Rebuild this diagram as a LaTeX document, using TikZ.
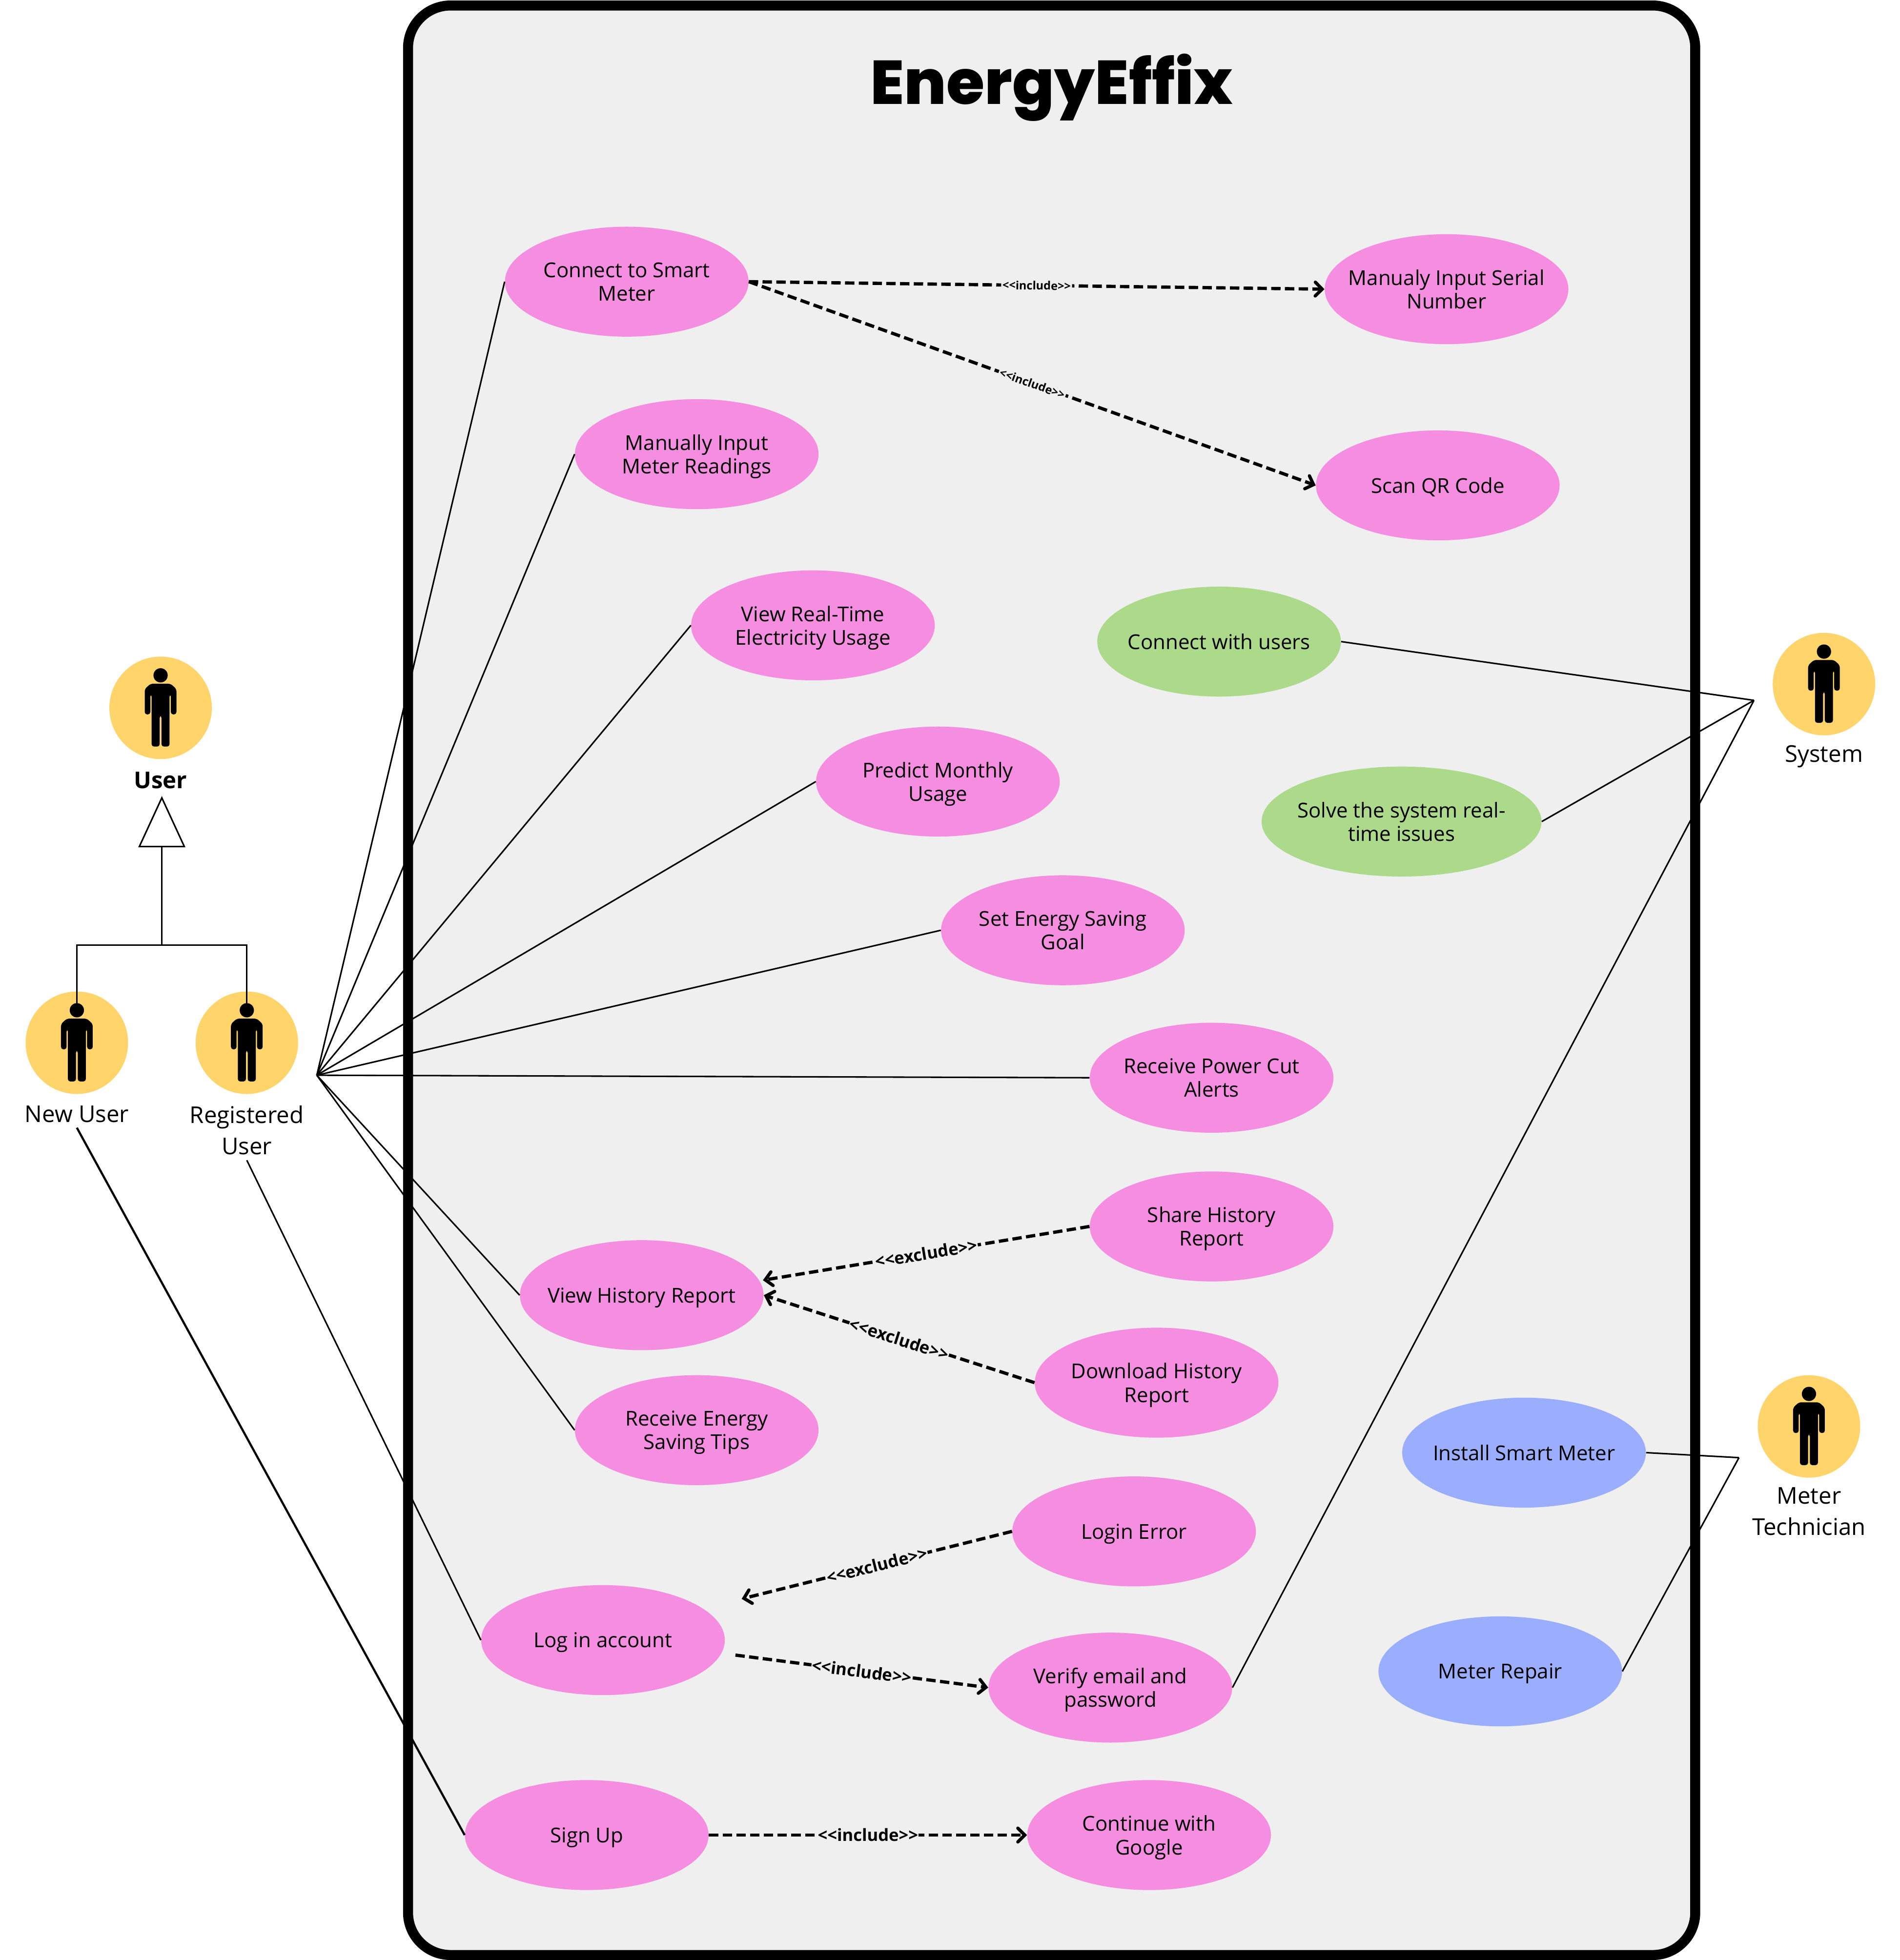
\documentclass[tikz,border=0pt]{standalone}
\usepackage{fontspec}
\setmainfont{Open Sans}
\newfontfamily\titlefont{Poppins ExtraBold}
\usetikzlibrary{arrows.meta, positioning, shapes.geometric, calc}
\definecolor{casepink}{HTML}{F58DE1}
\definecolor{casegreen}{HTML}{ACD98A}
\definecolor{caseblue}{HTML}{9BAEFD}
\definecolor{actorgold}{HTML}{FFD46B}
\definecolor{panelgrey}{HTML}{EFEFEF}
\newcommand{\incl}{<{}<include>{}>}
\newcommand{\excl}{<{}<exclude>{}>}
\tikzset{
  usecase/.style={ellipse, fill=casepink, minimum width=195pt, minimum height=88pt, inner xsep=-40pt, inner ysep=0pt, text depth=0pt, align=center, font=\fontsize{16.4}{18.8}\selectfont},
  actor/.style={circle, fill=actorgold, minimum size=82pt, inner sep=0pt},
  actorlabel/.style={align=center, inner sep=0pt, font=\fontsize{18.5}{25}\selectfont},
  assoc/.style={line width=1.2pt},
  dep/.style={line width=2.6pt, dash pattern=on 7.5pt off 3.5pt, -{Straight Barb[length=5.5pt,width=11pt,line cap=round]}},
  deptext/.style={fill=panelgrey, inner sep=0.5pt, sloped, midway, font=\fontsize{13.5}{15}\selectfont\bfseries},
  smalltext/.style={fill=panelgrey, inner sep=1pt, sloped, midway, font=\fontsize{9.2}{10}\selectfont\bfseries},
  stickman/.pic={
    \fill (0,-26) ellipse (5.7 and 5.7);
    \fill[rounded corners=2pt] (-8,-19.3) -- (8,-19.3) -- (12.7,-15) -- (12.7,5.3) -- (8.2,5.3) -- (8.2,-11) -- (7.2,-11) -- (7.2,31) -- (0.7,31) -- (0.7,6) -- (-0.7,6) -- (-0.7,31) -- (-7.2,31) -- (-7.2,-11) -- (-8.2,-11) -- (-8.2,5.3) -- (-12.7,5.3) -- (-12.7,-15) -- cycle;
  }
}
\begin{document}
\begin{tikzpicture}[x=1pt,y=-1pt]
  \useasboundingbox (-0.5,-0.4) rectangle (1519.5,1568);

  % Boundary
  \draw[line width=8pt, fill=panelgrey, rounded corners=34pt] (326,4) rectangle (1356,1564);
  \node[font=\titlefont\fontsize{49.5}{52}\selectfont] (title) at (841,69.5) {EnergyEffix};

  % Use cases
  \node[usecase] (connect) at (501,225) {Connect to Smart\\Meter};
  \node[usecase] (serial) at (1157,231) {Manualy Input Serial\\Number};
  \node[usecase] (readings) at (557,363) {Manually Input\\Meter Readings};
  \node[usecase] (qrcode) at (1150,388) {Scan QR Code};
  \node[usecase] (realtime) at (650,500) {View Real-Time\\Electricity Usage};
  \node[usecase] (predict) at (750,625) {Predict Monthly\\Usage};
  \node[usecase] (goal) at (850,744) {Set Energy Saving\\Goal};
  \node[usecase] (alerts) at (969,862) {Receive Power Cut\\Alerts};
  \node[usecase] (share) at (969,981) {Share History\\Report};
  \node[usecase] (history) at (513,1036) {View History Report};
  \node[usecase] (download) at (925,1106) {Download History\\Report};
  \node[usecase] (tips) at (557,1144) {Receive Energy\\Saving Tips};
  \node[usecase] (loginerror) at (907,1225) {Login Error};
  \node[usecase] (login) at (482,1312) {Log in account};
  \node[usecase] (verify) at (888,1350) {Verify email and\\password};
  \node[usecase] (signup) at (469,1468) {Sign Up};
  \node[usecase] (google) at (919,1468) {Continue with\\Google};
  \node[usecase, fill=casegreen] (users) at (975,513) {Connect with users};
  \node[usecase, fill=casegreen, minimum width=224pt] (issues) at (1121,657) {Solve the system real-\\time issues};
  \node[usecase, fill=caseblue] (install) at (1219,1162) {Install Smart Meter};
  \node[usecase, fill=caseblue] (repair) at (1200,1337) {Meter Repair};

  % Actors
  \node[actor] (user) at (128,566) {};
  \node[actor] (newuser) at (61,834) {};
  \node[actor] (reguser) at (197,834) {};
  \node[actor] (system) at (1459,547) {};
  \node[actor] (tech) at (1447,1141) {};
  \foreach \a in {user,newuser,reguser,system,tech} {
    \pic at (\a) {stickman};
  }
  \node[actorlabel, font=\fontsize{18.5}{25}\selectfont\bfseries] (userlabel) at (128,624) {User};
  \node[actorlabel] (newlabel) at (61,891) {New User};
  \node[actorlabel] (reglabel) at (197,904) {Registered\\User};
  \node[actorlabel] (syslabel) at (1459,605) {System};
  \node[actorlabel] (techlabel) at (1447,1209) {Meter\\Technician};

  % Generalisation
  \node[isosceles triangle, isosceles triangle stretches, shape border rotate=90, draw, fill=white, line width=1.2pt, inner sep=0pt, minimum width=36pt, minimum height=39pt] (parent) at (129,665.5) {};
  \coordinate (split) at (129,756);
  \coordinate (newhead) at (61,810);
  \coordinate (reghead) at (197,810);
  \draw[assoc] (parent.south) -- (split);
  \draw[assoc] (newhead) |- (reghead |- split) -- (reghead);

  % Associations
  \coordinate (fan) at (253,860);
  \coordinate (sysend) at (1403,560);
  \coordinate (techend) at (1391,1166);
  \foreach \c in {connect,readings,realtime,predict,goal,alerts,history,tips} {
    \draw[assoc] (fan) -- (\c.west);
  }
  \foreach \c in {users,issues,verify} {
    \draw[assoc] (\c.east) -- (sysend);
  }
  \foreach \c in {install,repair} {
    \draw[assoc] (\c.east) -- (techend);
  }
  \coordinate (regfoot) at (197,928);
  \coordinate (newfoot) at (61,902);
  \draw[assoc] (regfoot) -- (login.west);
  \draw[assoc, line width=1.7pt] (newfoot) -- (signup.west);

  % Include and exclude
  \draw[dep] (connect.east) -- (serial.west) node[smalltext] {\incl};
  \draw[dep] (connect.east) -- (qrcode.west) node[smalltext] {\incl};
  \coordinate (histtop) at (610,1024);
  \coordinate (loginup) at (593,1279);
  \coordinate (loginlow) at (588,1324);
  \draw[dep] (share.west) -- (histtop) node[deptext] {\excl};
  \draw[dep] (download.west) -- (history.east) node[deptext] {\excl};
  \draw[dep] (loginerror.west) -- (loginup) node[deptext] {\excl};
  \draw[dep] (loginlow) -- (verify.west) node[deptext] {\incl};
  \draw[dep] (signup.east) -- (google.west) node[deptext] {\incl};
\end{tikzpicture}
\end{document}
